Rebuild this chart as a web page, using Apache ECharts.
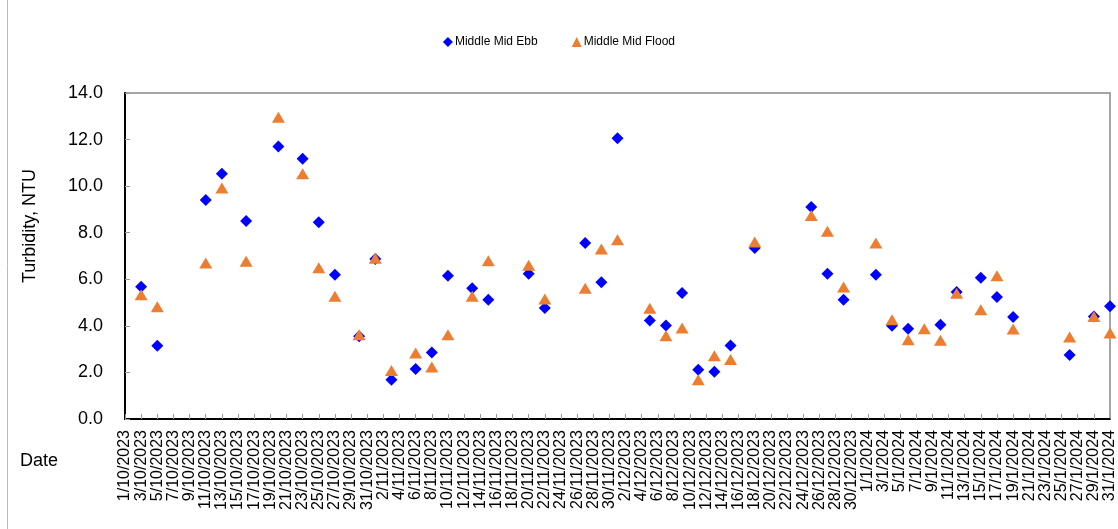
<!DOCTYPE html>
<html>
<head>
<meta charset="utf-8">
<script src="https://cdn.jsdelivr.net/npm/echarts@6/dist/echarts.min.js"></script>
<style>
html,body{margin:0;padding:0;background:#fff;}
#chart{width:1118px;height:529px;}
</style>
</head>
<body>
<div id="chart"></div>
<script>
// Axis range (category ticks are every day, labelled every 2nd day)
const startDate = [2023, 10, 1];
const endDate = [2024, 1, 31];

// Sample dates and readings
const sampleDates = [
  '3/10/2023','5/10/2023','11/10/2023','13/10/2023','16/10/2023','20/10/2023','23/10/2023','25/10/2023','27/10/2023','30/10/2023',
  '1/11/2023','3/11/2023','6/11/2023','8/11/2023','10/11/2023','13/11/2023','15/11/2023','20/11/2023','22/11/2023','27/11/2023','29/11/2023',
  '1/12/2023','5/12/2023','7/12/2023','9/12/2023','11/12/2023','13/12/2023','15/12/2023','18/12/2023','25/12/2023','27/12/2023','29/12/2023',
  '2/1/2024','4/1/2024','6/1/2024','8/1/2024','10/1/2024','12/1/2024','15/1/2024','17/1/2024','19/1/2024','26/1/2024','29/1/2024','31/1/2024'
];
const ebbValues = [
  5.68, 3.15, 9.40, 10.53, 8.50, 11.70, 11.18, 8.45, 6.20, 3.55,
  6.87, 1.69, 2.15, 2.86, 6.15, 5.62, 5.12, 6.24, 4.77, 7.56, 5.87,
  12.06, 4.23, 4.02, 5.41, 2.12, 2.03, 3.16, 7.34, 9.10, 6.24, 5.12,
  6.20, 4.00, 3.88, null, 4.05, 5.45, 6.07, 5.24, 4.38, 2.75, 4.40, 4.84
];
const floodValues = [
  5.34, 4.82, 6.70, 9.92, 6.77, 12.96, 10.53, 6.50, 5.27, 3.62,
  6.90, 2.08, 2.83, 2.23, 3.62, 5.27, 6.80, 6.60, 5.15, 5.62, 7.30,
  7.70, 4.76, 3.58, 3.91, 1.69, 2.72, 2.55, 7.60, 8.74, 8.06, 5.67,
  7.56, 4.26, 3.40, 3.88, 3.38, 5.40, 4.69, 6.15, 3.86, 3.52, 4.40, 3.69
];
const seriesNames = ['Middle Mid Ebb', 'Middle Mid Flood'];
const yTicks = [0, 2, 4, 6, 8, 10, 12, 14];

// Build the daily category list
const categories = [];
{
  const d = new Date(startDate[0], startDate[1] - 1, startDate[2]);
  const e = new Date(endDate[0], endDate[1] - 1, endDate[2]);
  while (d <= e) {
    categories.push(d.getDate() + '/' + (d.getMonth() + 1) + '/' + d.getFullYear());
    d.setDate(d.getDate() + 1);
  }
}
function pairs(vals) {
  const out = [];
  sampleDates.forEach((s, i) => { if (vals[i] != null) out.push([s, vals[i]]); });
  return out;
}

const FONT = "'Liberation Sans', Arial, sans-serif";
const chart = echarts.init(document.getElementById('chart'), null, {renderer: 'canvas'});
chart.setOption({
  animation: false,
  backgroundColor: '#fff',
  textStyle: {fontFamily: FONT},
  legend: {
    top: 31,
    left: 'center',
    itemGap: 34,
    itemWidth: 10,
    itemHeight: 10,
    textStyle: {fontSize: 12, color: '#000', fontFamily: FONT, padding: [0, 0, 0, -3]},
    data: [
      {name: seriesNames[0], icon: 'diamond', itemStyle: {color: '#0000FF', opacity: 1}},
      {name: seriesNames[1], icon: 'triangle', itemStyle: {color: '#ED7D31', opacity: 1}}
    ]
  },
  grid: {
    left: 125, right: 2, top: 93, bottom: 110,
    show: true, borderColor: '#888', borderWidth: 1.5, backgroundColor: '#fff'
  },
  xAxis: {
    type: 'category',
    data: categories,
    boundaryGap: false,
    axisLine: {lineStyle: {color: '#000', width: 2}},
    axisTick: {inside: true, length: 5, interval: 1, lineStyle: {color: '#999'}},
    axisLabel: {interval: 1, rotate: 90, fontSize: 16, color: '#000', margin: 11, fontFamily: FONT},
    splitLine: {show: false}
  },
  yAxis: {
    type: 'value',
    min: yTicks[0], max: yTicks[yTicks.length - 1], interval: 2,
    axisLine: {show: true, lineStyle: {color: '#000', width: 2}},
    axisTick: {show: true, inside: true, length: 5, lineStyle: {color: '#999'}},
    axisLabel: {fontSize: 18, color: '#000', margin: 22, fontFamily: FONT, formatter: v => v.toFixed(1)},
    splitLine: {show: false}
  },
  graphic: [
    {type: 'line', shape: {x1: 7.5, y1: 0, x2: 7.5, y2: 529}, style: {stroke: '#bbb', lineWidth: 1}, silent: true},
    {type: 'text', x: 30, y: 226, rotation: Math.PI / 2,
     style: {text: 'Turbidity, NTU', font: '18px ' + FONT, fill: '#000', textAlign: 'center', textVerticalAlign: 'middle'}},
    {type: 'text', x: 20, y: 461,
     style: {text: 'Date', font: '18px ' + FONT, fill: '#000', textAlign: 'left', textVerticalAlign: 'middle'}}
  ],
  series: [
    {name: seriesNames[0], type: 'scatter', symbol: 'diamond', symbolSize: [12, 12],
     itemStyle: {color: '#0000FF', opacity: 1}, data: pairs(ebbValues), z: 2},
    {name: seriesNames[1], type: 'scatter', symbol: 'triangle', symbolSize: [13, 11],
     itemStyle: {color: '#ED7D31', opacity: 1}, data: pairs(floodValues), z: 3}
  ]
});
</script>
</body>
</html>
